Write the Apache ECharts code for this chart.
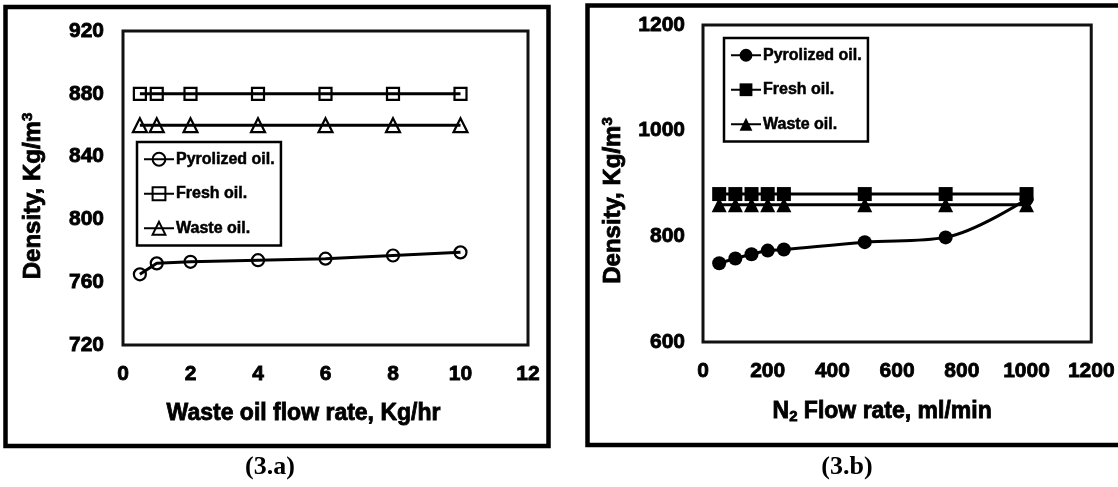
<!DOCTYPE html>
<html>
<head>
<meta charset="utf-8">
<script src="https://cdn.jsdelivr.net/npm/echarts@6/dist/echarts.min.js"></script>
<style>html,body{margin:0;padding:0;background:#fff}#c{width:1118px;height:487px}</style>
</head>
<body>
<div id="c"></div>
<script>
// ---- Data (3.a) ----
const flowRateA = [0.5, 1, 2, 4, 6, 8, 10];               // Waste oil flow rate, Kg/hr
const pyrolizedA = [765, 772, 773, 774, 775, 777, 779];
const freshA = [880, 880, 880, 880, 880, 880, 880];
const wasteA = [860, 860, 860, 860, 860, 860, 860];
// ---- Data (3.b) ----
const flowRateB = [50, 100, 150, 200, 250, 500, 750, 1000]; // N2 flow rate, ml/min
const pyrolizedB = [749, 758, 766, 773, 775, 789, 798, 870];
const freshB = [880, 880, 880, 880, 880, 880, 880, 880];
const wasteB = [860, 860, 860, 860, 860, 860, 860, 860];
const seriesNames = ['Pyrolized oil.', 'Fresh oil.', 'Waste oil.'];
const captions = ['(3.a)', '(3.b)'];

const pairs = (xs, ys) => xs.map((x, i) => [x, ys[i]]);
const FONT = 'Liberation Sans, Arial, sans-serif';
const SUFFIX = ' [b]';
const HEAVY = { textBorderColor: '#000', textBorderWidth: 0.8 };

const tickLabel = Object.assign({ fontFamily: FONT, fontWeight: 'bold', fontSize: 21, color: '#000', formatter: v => String(v) }, HEAVY);

function hollow(name, sym, data, smooth) {
  return {
    type: 'line', name: name, xAxisIndex: 0, yAxisIndex: 0, data: data,
    symbol: sym, symbolSize: sym === 'triangle' ? 14 : 12, smooth: smooth || false,
    itemStyle: { color: 'rgba(255,255,255,0)', borderColor: '#000', borderWidth: 2.2 },
    lineStyle: { color: '#000', width: 3 },
    z: 3
  };
}
function filled(name, sym, data, smooth) {
  return {
    type: 'line', name: name + SUFFIX, xAxisIndex: 1, yAxisIndex: 1, data: data,
    symbol: sym, symbolSize: sym === 'triangle' ? 15 : 14, smooth: smooth || false,
    itemStyle: { color: '#000' },
    lineStyle: { color: '#000', width: 3 },
    z: 3
  };
}
function richTitle(size, supPad, extra) {
  return Object.assign({
    fontFamily: FONT, fontWeight: 'bold', fontSize: size, color: '#000',
    rich: {
      b: Object.assign({ fontFamily: FONT, fontWeight: 'bold', fontSize: size, color: '#000' }, HEAVY),
      s: Object.assign({ fontFamily: FONT, fontWeight: 'bold', fontSize: 15, color: '#000', padding: supPad }, HEAVY)
    }
  }, HEAVY, extra || {});
}
const legendText = Object.assign({ fontFamily: FONT, fontWeight: 'bold', fontSize: 16, color: '#000', padding: [0, 0, 0, -3] }, { textBorderColor: '#000', textBorderWidth: 0.5 });
const captionFont = 'bold 26px "Liberation Serif", "Times New Roman", serif';

const chart = echarts.init(document.getElementById('c'), null, { renderer: 'canvas' });
chart.setOption({
  backgroundColor: '#fff',
  animation: false,
  grid: [
    { left: 123, top: 31, width: 405, height: 314, show: true, borderColor: '#111', borderWidth: 3, backgroundColor: 'transparent' },
    { left: 703, top: 25, width: 390, height: 317, show: true, borderColor: '#111', borderWidth: 3, backgroundColor: 'transparent' }
  ],
  xAxis: [
    {
      gridIndex: 0, type: 'value', min: 0, max: 12, interval: 2,
      axisLine: { show: false }, axisTick: { show: false }, splitLine: { show: false },
      axisLabel: Object.assign({ margin: 19 }, tickLabel),
      name: 'Waste oil flow rate, Kg/hr', nameLocation: 'middle', nameGap: 57,
      nameTextStyle: Object.assign({ fontFamily: FONT, fontWeight: 'bold', fontSize: 23, color: '#000', padding: [0, 44, 0, 0] }, HEAVY)
    },
    {
      gridIndex: 1, type: 'value', min: 0, max: 1200, interval: 200,
      axisLine: { show: false }, axisTick: { show: false }, splitLine: { show: false },
      axisLabel: Object.assign({ margin: 19 }, tickLabel),
      name: '{b|N}{s|2}{b| Flow rate, ml/min}', nameLocation: 'middle', nameGap: 57,
      nameTextStyle: richTitle(23, [10, 0, 0, 0], { padding: [0, 30, 0, 0] })
    }
  ],
  yAxis: [
    {
      gridIndex: 0, type: 'value', min: 720, max: 920, interval: 40,
      axisLine: { show: false }, axisTick: { show: false }, splitLine: { show: false },
      axisLabel: Object.assign({ margin: 19 }, tickLabel),
      name: '{b|Density, Kg/m}{s|3}', nameLocation: 'middle', nameGap: 76, nameRotate: 90,
      nameTextStyle: richTitle(24, [0, 0, 12, 0], { padding: [0, 16, 0, 0] })
    },
    {
      gridIndex: 1, type: 'value', min: 600, max: 1200, interval: 200,
      axisLine: { show: false }, axisTick: { show: false }, splitLine: { show: false },
      axisLabel: Object.assign({ margin: 18 }, tickLabel),
      name: '{b|Density, Kg/m}{s|3}', nameLocation: 'middle', nameGap: 76, nameRotate: 90,
      nameTextStyle: richTitle(24, [0, 0, 12, 0], { padding: [0, 34, 0, 0] })
    }
  ],
  legend: [
    {
      orient: 'vertical', left: 137, top: 142, padding: [9, 6, 9, 6],
      backgroundColor: '#fff', borderColor: '#000', borderWidth: 2.5,
      itemWidth: 30, itemHeight: 16, itemGap: 18, selectedMode: false,
      data: seriesNames,
      textStyle: legendText
    },
    {
      orient: 'vertical', left: 724, top: 38, padding: [9, 6, 9, 6],
      backgroundColor: '#fff', borderColor: '#000', borderWidth: 2.5,
      itemWidth: 30, itemHeight: 16, itemGap: 18, selectedMode: false,
      data: seriesNames.map(n => n + SUFFIX),
      formatter: n => n.replace(SUFFIX, ''),
      textStyle: legendText
    }
  ],
  series: [
    hollow(seriesNames[0], 'circle', pairs(flowRateA, pyrolizedA)),
    hollow(seriesNames[1], 'rect', pairs(flowRateA, freshA)),
    hollow(seriesNames[2], 'triangle', pairs(flowRateA, wasteA)),
    filled(seriesNames[0], 'circle', pairs(flowRateB, pyrolizedB), 0.35),
    filled(seriesNames[1], 'rect', pairs(flowRateB, freshB)),
    filled(seriesNames[2], 'triangle', pairs(flowRateB, wasteB))
  ],
  graphic: [
    { type: 'rect', shape: { x: 5.5, y: 7, width: 543, height: 439 }, style: { fill: 'none', stroke: '#000', lineWidth: 4.5 }, z: 0, silent: true },
    { type: 'rect', shape: { x: 587.5, y: 5.5, width: 600, height: 439.5 }, style: { fill: 'none', stroke: '#000', lineWidth: 4.5 }, z: 0, silent: true },
    { type: 'text', x: 270, y: 467, style: { text: captions[0], fill: '#000', font: captionFont, textAlign: 'center', textVerticalAlign: 'middle', align: 'center', verticalAlign: 'middle' }, silent: true },
    { type: 'text', x: 847, y: 467, style: { text: captions[1], fill: '#000', font: captionFont, textAlign: 'center', textVerticalAlign: 'middle', align: 'center', verticalAlign: 'middle' }, silent: true }
  ]
});
</script>
</body>
</html>
